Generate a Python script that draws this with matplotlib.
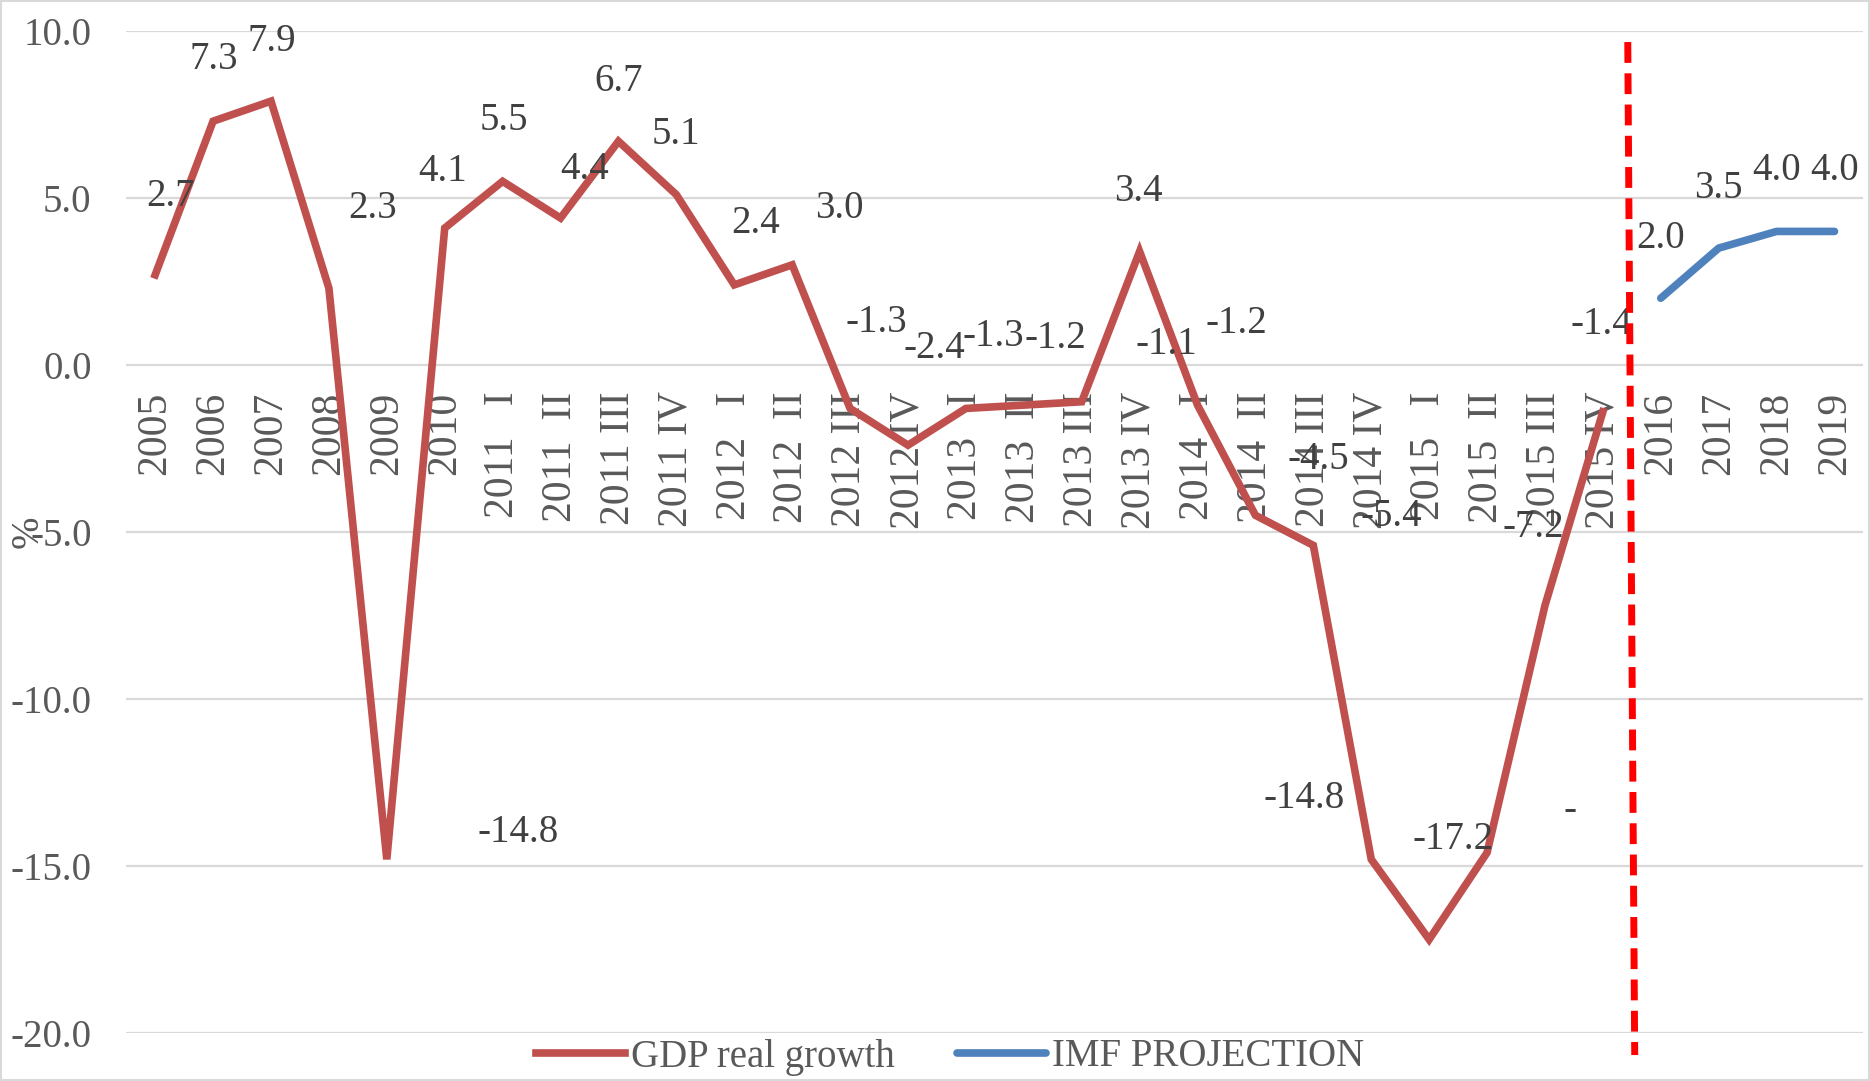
import numpy as np
import matplotlib
matplotlib.use("Agg")
import matplotlib.pyplot as plt
from matplotlib.patches import Rectangle

plt.rcParams['font.family'] = ['Liberation Serif', 'DejaVu Serif']

# categories on the x axis
periods = ["2005", "2006", "2007", "2008", "2009", "2010",
           "2011   I", "2011  II", "2011 III", "2011 IV",
           "2012   I", "2012  II", "2012 III", "2012 IV",
           "2013   I", "2013  II", "2013 III", "2013 IV",
           "2014   I", "2014  II", "2014 III", "2014 IV",
           "2015   I", "2015  II", "2015 III", "2015 IV",
           "2016", "2017", "2018", "2019"]

# GDP real growth, 2005 .. 2015 IV
gdp = [2.7, 7.3, 7.9, 2.3, -14.8, 4.1, 5.5, 4.4, 6.7, 5.1,
       2.4, 3.0, -1.3, -2.4, -1.3, -1.2, -1.1, 3.4, -1.2, -4.5,
       -5.4, -14.8, -17.2, -14.6, -7.2, -1.4]
gdp_labels = ["2.7", "7.3", "7.9", "2.3", "-14.8", "4.1", "5.5", "4.4", "6.7", "5.1",
              "2.4", "3.0", "-1.3", "-2.4", "-1.3", "-1.2", "-1.1", "3.4", "-1.2", "-4.5",
              "-5.4", "-14.8", "-17.2", "-", "-7.2", "-1.4"]

# IMF projection, 2016 .. 2019
imf = [2.0, 3.5, 4.0, 4.0]
imf_labels = ["2.0", "3.5", "4.0", "4.0"]

# label offsets in pixels (the labels in the original sit a bit off their points)
gdp_offsets = [(15, 78), (1, 62), (1, 60), (44, 80), (131, 27), (-2, 57), (1, 61),
               (24, 49), (0, 60), (0, 60), (21, 61), (47, 56), (26, 86), (26, 97),
               (27, 72), (32, 67), (85, 57), (-1, 60), (39, 82), (63, 56), (78, 29),
               (-67, 61), (24, 100), (83, 42), (-12, 78), (-1, 87)]
imf_offsets = [(0, 60), (0, 60), (0, 61), (0, 61)]

RED = "#C0504D"
BLUE = "#4F81BD"
TXT = "#595959"
FS = 28

fig = plt.figure(figsize=(18.7, 10.81), dpi=100)
ax = fig.add_axes([0.0675, 0.0444, 0.929, 0.9269])

x = np.arange(len(periods))
x_gdp = x[:len(gdp)]
x_imf = x[len(gdp):]

ax.plot(x_gdp, gdp, color=RED, lw=5.5, solid_joinstyle='miter', label="GDP real growth", zorder=3)
ax.plot(x_imf, imf, color=BLUE, lw=5.5, solid_capstyle='round', label="IMF PROJECTION", zorder=3)

for xi, v, t, off in zip(x_gdp, gdp, gdp_labels, gdp_offsets):
    ax.annotate(t, (xi, v), xytext=off, textcoords='offset pixels',
                ha='center', va='center', fontsize=FS, color="#404040", zorder=4)
for xi, v, t, off in zip(x_imf, imf, imf_labels, imf_offsets):
    ax.annotate(t, (xi, v), xytext=off, textcoords='offset pixels',
                ha='center', va='center', fontsize=FS, color="#404040", zorder=4)

# red dashed separator between actual data and projection
ax.plot([25.43, 25.55], [9.67, -20.66], color="#FF0000", lw=5, dashes=(3, 1.5),
        clip_on=False, zorder=5)

# axis at y=0 (set before the tick labels, it resets the ticks)
ax.spines['bottom'].set_position(('data', 0))
for s in ax.spines.values():
    s.set_visible(False)

ax.set_xlim(-0.5, len(periods) - 0.5)
ax.set_ylim(-20, 10)
ax.set_yticks(np.arange(-20, 10.1, 5))
ax.set_yticklabels([f"{v:.1f}" for v in np.arange(-20, 10.1, 5)])
ax.set_xticks(x)
ax.set_xticklabels(periods)
ax.tick_params(axis='x', length=0, pad=19, labelsize=30, labelcolor=TXT, labelrotation=90)
ax.tick_params(axis='y', length=0, pad=25, labelsize=FS, labelcolor=TXT)
for lab in ax.get_xticklabels():
    lab.set_va('top')
    lab.set_ha('center')
ax.grid(axis='y', color="#D9D9D9", lw=1.6)
ax.set_axisbelow(True)

fig.text(28 / 1870, 1 - 532 / 1081, "%", rotation=90, ha='center', va='center',
         fontsize=FS, color=TXT)

fig.legend(loc='center', bbox_to_anchor=(950 / 1870, 1 - 1057 / 1081), ncol=2,
           frameon=False, fontsize=FS, handlelength=2.3, handletextpad=0.15,
           columnspacing=1.6, labelcolor=TXT)

fig.patches.append(Rectangle((0.0005, 0.0005), 0.999, 0.999, transform=fig.transFigure,
                             fill=False, edgecolor="#D9D9D9", lw=1.5))

fig.savefig("out.png", dpi=100)
